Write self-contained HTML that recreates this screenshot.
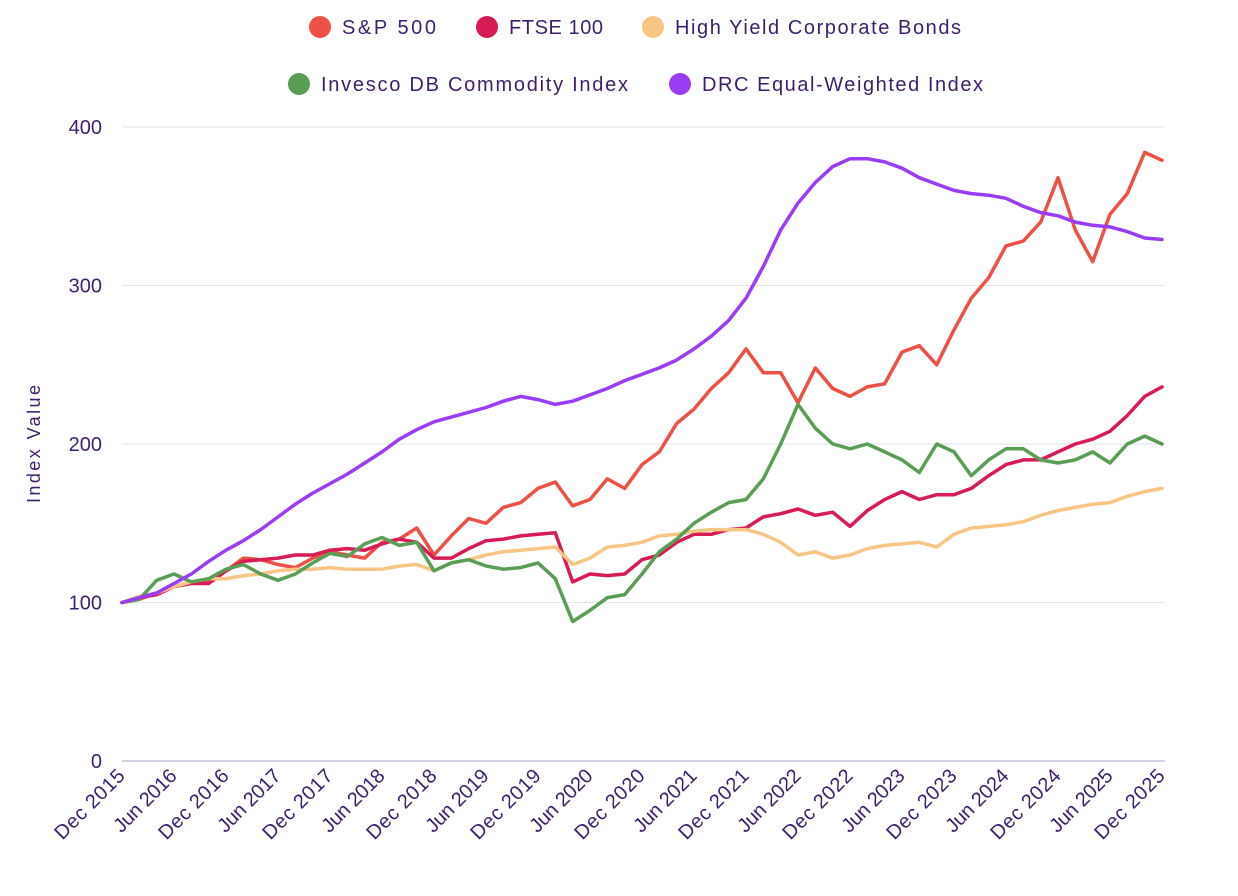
<!DOCTYPE html>
<html><head><meta charset="utf-8"><style>
body{margin:0;background:#fff;font-family:"Liberation Sans",sans-serif;}
svg{display:block}
</style></head><body>
<svg id="chart" width="1238" height="896" viewBox="0 0 1238 896" xmlns="http://www.w3.org/2000/svg"></svg>
<script>
const months = Array.from({length:61},(_,k)=>k*2); // months since Dec 2015
const xTickLabels = ["Dec 2015","Jun 2016","Dec 2016","Jun 2017","Dec 2017","Jun 2018","Dec 2018","Jun 2019","Dec 2019","Jun 2020","Dec 2020","Jun 2021","Dec 2021","Jun 2022","Dec 2022","Jun 2023","Dec 2023","Jun 2024","Dec 2024","Jun 2025","Dec 2025"];
const yTicks = [0,100,200,300,400];
const sp500 = [100,102,106,110,113,113,120,128,127,124,122,128,132,130,128,138,140,147,130,142,153,150,160,163,172,176,161,165,178,172,187,195,213,222,235,245,260,245,245,226,248,235,230,236,238,258,262,250,272,292,305,325,328,340,368,335,315,345,358,384,379];
const ftse = [100,103,105,110,112,112,120,126,127,128,130,130,133,134,133,137,140,138,128,128,134,139,140,142,143,144,113,118,117,118,127,130,138,143,143,146,147,154,156,159,155,157,148,158,165,170,165,168,168,172,180,187,190,190,195,200,203,208,218,230,236];
const hy = [100,104,106,110,113,115,115,117,118,120,121,121,122,121,121,121,123,124,120,125,127,130,132,133,134,135,124,128,135,136,138,142,143,145,146,146,146,143,138,130,132,128,130,134,136,137,138,135,143,147,148,149,151,155,158,160,162,163,167,170,172];
const commodity = [100,102,114,118,113,115,121,124,118,114,118,125,131,129,137,141,136,138,120,125,127,123,121,122,125,115,88,95,103,105,118,132,140,150,157,163,165,178,200,225,210,200,197,200,195,190,182,200,195,180,190,197,197,190,188,190,195,188,200,205,200];
const drc = [100,103,106,112,118,126,133,139,146,154,162,169,175,181,188,195,203,209,214,217,220,223,227,230,228,225,227,231,235,240,244,248,253,260,268,278,292,312,335,352,365,375,380,380,378,374,368,364,360,358,357,355,350,346,344,340,338,337,334,330,329];
const seriesNames = ["S&P 500","FTSE 100","High Yield Corporate Bonds","Invesco DB Commodity Index","DRC Equal-Weighted Index"];
const seriesData = [sp500,ftse,hy,commodity,drc];
const colors = ["#ef5046","#d81b55","#f7c584","#5a9e55","#9a3cf5"];
const NS="http://www.w3.org/2000/svg", svg=document.getElementById('chart');
const X0=122,X1=1162,Y0=761,PX=1.585;
const xs=m=>X0+(X1-X0)*m/120, ys=v=>Y0-v*PX;
function mk(t,a,p){const e=document.createElementNS(NS,t);for(const k in a)e.setAttribute(k,a[k]);(p||svg).appendChild(e);return e;}
yTicks.forEach(v=>{
  const l=mk('line',{x1:X0,x2:1165,y1:ys(v),y2:ys(v),stroke:v===0?'#aaa4cc':'#e4e4ec','stroke-width':1});
  
  
  const t=mk('text',{x:102,y:ys(v)+7,'text-anchor':'end','font-size':20,fill:'#3d1f6e'});t.textContent=v;
  
  
});
const yt=mk('text',{x:40,y:444,transform:'rotate(-90 40 444)','text-anchor':'middle','font-size':18,fill:'#3d1f6e',textLength:118,lengthAdjust:'spacing'});yt.textContent='Index Value';


xTickLabels.forEach((s,i)=>{
  const x=xs(i*6),y=Y0+16;
  const t=mk('text',{x:x+4,y:y,transform:`rotate(-45 ${x+4} ${y})`,'text-anchor':'end','font-size':20,fill:'#3d1f6e',textLength:s.startsWith('Dec')?90:80,lengthAdjust:'spacing'});t.textContent=s;
  
  
});
seriesData.forEach((d,i)=>{
  const p=mk('path',{d:d.map((v,j)=>(j?'L':'M')+xs(months[j]).toFixed(1)+','+ys(v).toFixed(1)).join(''),fill:'none',stroke:colors[i],'stroke-width':3.5,'stroke-linejoin':'round','stroke-linecap':'round'});
  
  
});
const legendPos=[[320,27],[487,27],[653,27],[299,84],[680,84]];
const legendW=[94,94,286,307,281];
seriesNames.forEach((n,i)=>{
  const g=mk('g',{});
  
  
  const [x,y]=legendPos[i];
  mk('circle',{cx:x,cy:y,r:11,fill:colors[i]},g);
  const t=mk('text',{x:x+22,y:y+7,'font-size':20,fill:'#3d1f6e',textLength:legendW[i],lengthAdjust:'spacing'},g);t.textContent=n;
});
</script>
</body></html>
